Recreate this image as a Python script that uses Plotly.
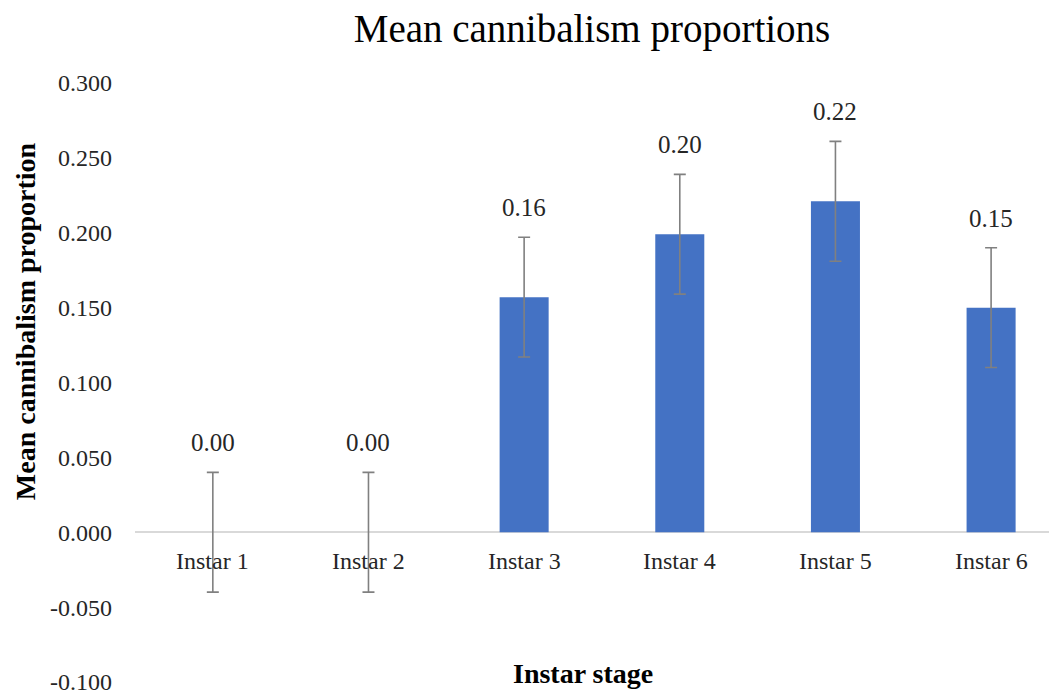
import plotly.graph_objects as go

categories = ["Instar 1", "Instar 2", "Instar 3", "Instar 4", "Instar 5", "Instar 6"]
means = [0.0, 0.0, 0.157, 0.199, 0.221, 0.150]
errors = [0.04, 0.04, 0.04, 0.04, 0.04, 0.04]
labels = ["0.00", "0.00", "0.16", "0.20", "0.22", "0.15"]
ytick_vals = [-0.1, -0.05, 0.0, 0.05, 0.1, 0.15, 0.2, 0.25, 0.3]
ytick_text = ["-0.100", "-0.050", "0.000", "0.050", "0.100", "0.150", "0.200", "0.250", "0.300"]

FONT = "Liberation Serif"
xs = list(range(len(categories)))

fig = go.Figure()
fig.add_trace(go.Bar(
    x=xs, y=means, width=0.315,
    marker=dict(color="#4472C4", line=dict(width=0)),
    error_y=dict(type="data", array=errors, visible=True, color="#808080",
                 thickness=1.6, width=6),
    hoverinfo="skip",
))

annotations = []
for x, m, e, t in zip(xs, means, errors, labels):
    annotations.append(dict(x=x, y=m + e, xref="x", yref="y", text=t, showarrow=False,
                            yanchor="bottom", yshift=14,
                            font=dict(family=FONT, size=25, color="#262626")))
for x, c in zip(xs, categories):
    annotations.append(dict(x=x, y=0, xref="x", yref="y", text=c, showarrow=False,
                            yanchor="middle", yshift=-29,
                            font=dict(family=FONT, size=24, color="#262626")))
annotations.append(dict(x=0.49, y=-0.1, xref="paper", yref="y", text="<b>Instar stage</b>",
                        showarrow=False, yanchor="middle", yshift=9,
                        font=dict(family=FONT, size=28, color="#000000")))
annotations.append(dict(x=-0.1203, y=0.141, xref="paper", yref="y",
                        text="<b>Mean cannibalism proportion</b>", textangle=-90,
                        showarrow=False, xanchor="center", yanchor="middle",
                        font=dict(family=FONT, size=28, color="#000000")))

fig.update_layout(
    width=1049, height=691,
    margin=dict(l=135, r=0, t=83, b=9, autoexpand=False),
    paper_bgcolor="white", plot_bgcolor="white",
    showlegend=False,
    title=dict(text="Mean cannibalism proportions", x=0.5, xref="paper", xanchor="center",
               y=1 - 28 / 691, yanchor="middle",
               font=dict(family=FONT, size=39, color="#000000")),
    xaxis=dict(range=[-0.5, 5.372], showticklabels=False, showgrid=False, zeroline=False,
               showline=False, ticks="", automargin=False),
    yaxis=dict(range=[-0.1, 0.3], tickvals=ytick_vals, ticktext=ytick_text,
               showgrid=False, zeroline=True, zerolinecolor="#d9d9d9", zerolinewidth=2,
               showline=False, ticks="", ticklabelstandoff=22, ticklabeloverflow="allow",
               automargin=False,
               tickfont=dict(family=FONT, size=24, color="#262626")),
    annotations=annotations,
)

fig.write_html("out.html", config={"displayModeBar": False},
               post_script="document.body.style.margin='0';")
